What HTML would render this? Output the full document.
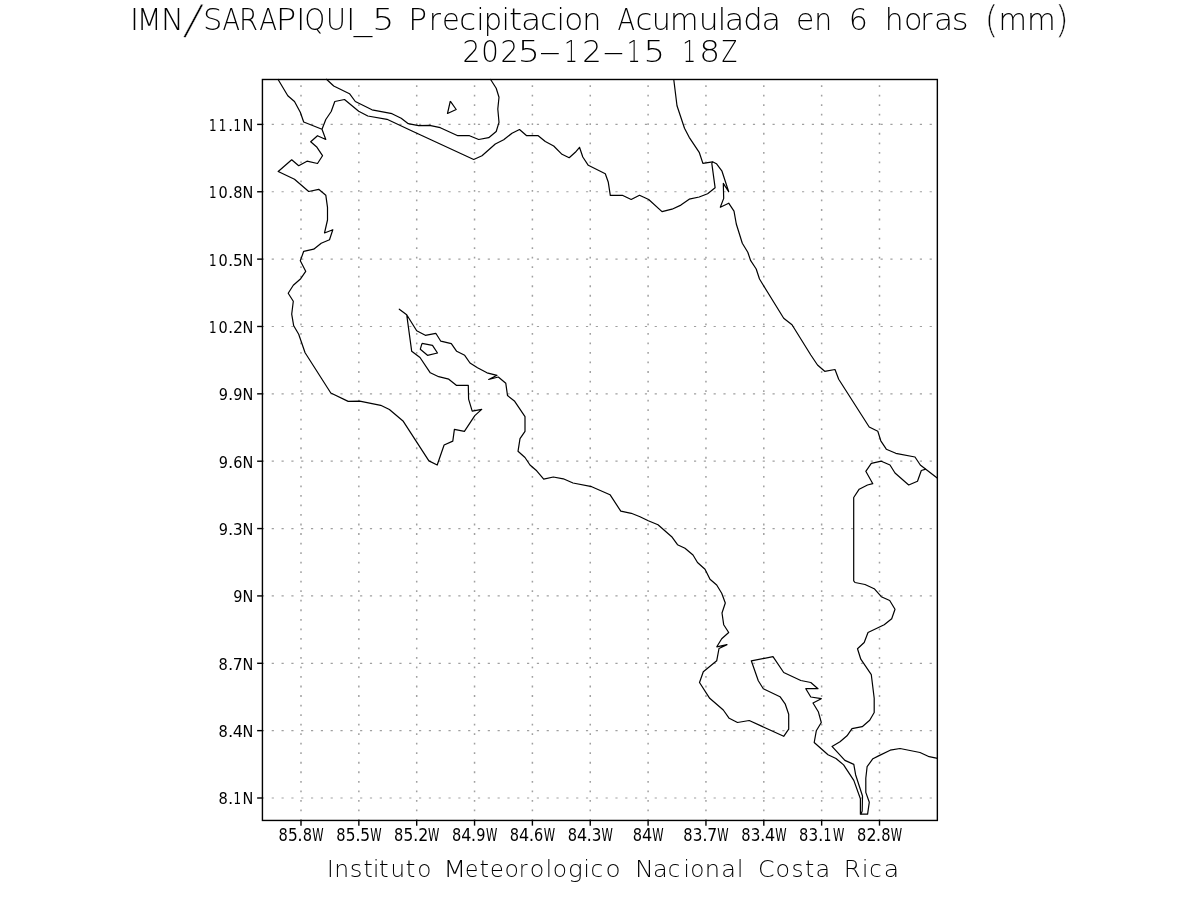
<!DOCTYPE html>
<html><head><meta charset="utf-8"><title>IMN/SARAPIQUI_5 Precipitacion Acumulada en 6 horas (mm)</title>
<style>
html,body{margin:0;padding:0;background:#fff;width:1200px;height:900px;overflow:hidden}
svg{display:block}
text{font-family:"DejaVu Sans","Liberation Sans",sans-serif;font-weight:200;fill:#000;filter:grayscale(1)}
text.a{font-weight:400}

</style></head>
<body>
<svg width="1200" height="900" viewBox="0 0 1200 900">
<rect width="1200" height="900" fill="#fff"/>
<text class="t" font-size="30.55" transform="translate(0 30.3)"><tspan x="130.02" y="0">I</tspan><tspan x="136.68" y="0" textLength="24.93" lengthAdjust="spacingAndGlyphs">M</tspan><tspan x="161.05" y="0">N</tspan><tspan x="183.40" font-size="43.68" y="2.7" stroke="#fff" stroke-width="0.35" rotate="11.0">/</tspan><tspan x="203.04" y="0">S</tspan><tspan x="222.53" y="0" textLength="17.54" lengthAdjust="spacingAndGlyphs">A</tspan><tspan x="239.11" y="0" textLength="19.10" lengthAdjust="spacingAndGlyphs">R</tspan><tspan x="259.22" y="0" textLength="17.87" lengthAdjust="spacingAndGlyphs">A</tspan><tspan x="275.80" y="0" textLength="20.55" lengthAdjust="spacingAndGlyphs">P</tspan><tspan x="296.37" y="0">I</tspan><tspan x="304.41" y="0" textLength="20.60" lengthAdjust="spacingAndGlyphs">Q</tspan><tspan x="326.11" y="0" textLength="19.94" lengthAdjust="spacingAndGlyphs">U</tspan><tspan x="346.22" y="0">I</tspan><tspan x="353.67" y="0" textLength="18.46" lengthAdjust="spacingAndGlyphs">_</tspan><tspan x="372.33" y="0" textLength="22.09" lengthAdjust="spacingAndGlyphs">5</tspan> <tspan x="408.15" y="0" textLength="18.81" lengthAdjust="spacingAndGlyphs">P</tspan><tspan x="428.64" y="0" textLength="12.20" lengthAdjust="spacingAndGlyphs">r</tspan><tspan x="441.89" y="0" textLength="17.79" lengthAdjust="spacingAndGlyphs">e</tspan><tspan x="459.25" y="0">c</tspan><tspan x="476.13" y="0">i</tspan><tspan x="483.73" y="0" textLength="18.33" lengthAdjust="spacingAndGlyphs">p</tspan><tspan x="501.58" y="0">i</tspan><tspan x="509.11" y="0" textLength="13.22" lengthAdjust="spacingAndGlyphs">t</tspan><tspan x="520.94" y="0" textLength="20.30" lengthAdjust="spacingAndGlyphs">a</tspan><tspan x="539.94" y="0" textLength="17.02" lengthAdjust="spacingAndGlyphs">c</tspan><tspan x="556.58" y="0">i</tspan><tspan x="564.21" y="0" textLength="19.03" lengthAdjust="spacingAndGlyphs">o</tspan><tspan x="582.37" y="0" textLength="19.17" lengthAdjust="spacingAndGlyphs">n</tspan> <tspan x="617.53" y="0" textLength="17.54" lengthAdjust="spacingAndGlyphs">A</tspan><tspan x="635.47" y="0">c</tspan><tspan x="651.77" y="0" textLength="19.17" lengthAdjust="spacingAndGlyphs">u</tspan><tspan x="669.99" y="0" textLength="28.45" lengthAdjust="spacingAndGlyphs">m</tspan><tspan x="698.65" y="0" textLength="19.93" lengthAdjust="spacingAndGlyphs">u</tspan><tspan x="717.68" y="0">l</tspan><tspan x="724.84" y="0" textLength="19.56" lengthAdjust="spacingAndGlyphs">a</tspan><tspan x="743.36" y="0">d</tspan><tspan x="761.54" y="0" textLength="19.56" lengthAdjust="spacingAndGlyphs">a</tspan> <tspan x="795.92" y="0" textLength="18.32" lengthAdjust="spacingAndGlyphs">e</tspan><tspan x="814.29" y="0" textLength="17.94" lengthAdjust="spacingAndGlyphs">n</tspan> <tspan x="848.80" y="0" textLength="19.09" lengthAdjust="spacingAndGlyphs">6</tspan> <tspan x="884.63" y="0" textLength="18.86" lengthAdjust="spacingAndGlyphs">h</tspan><tspan x="903.88" y="0" textLength="18.49" lengthAdjust="spacingAndGlyphs">o</tspan><tspan x="920.34" y="0" textLength="12.20" lengthAdjust="spacingAndGlyphs">r</tspan><tspan x="934.10" y="0" textLength="19.12" lengthAdjust="spacingAndGlyphs">a</tspan><tspan x="951.72" y="0" textLength="16.89" lengthAdjust="spacingAndGlyphs">s</tspan> <tspan x="984.26" font-size="37.27" y="2.1" stroke="#fff" stroke-width="0.3">(</tspan><tspan x="998.39" y="0" textLength="28.45" lengthAdjust="spacingAndGlyphs">m</tspan><tspan x="1026.96" y="0" textLength="28.71" lengthAdjust="spacingAndGlyphs">m</tspan><tspan x="1054.51" font-size="37.27" y="2.1" stroke="#fff" stroke-width="0.3">)</tspan></text>
<text class="t" font-size="30.55" transform="translate(0 62.1)"><tspan x="462.43" y="0" textLength="17.86" lengthAdjust="spacingAndGlyphs">2</tspan><tspan x="481.27" y="0" textLength="17.54" lengthAdjust="spacingAndGlyphs">0</tspan><tspan x="500.53" y="0" textLength="17.86" lengthAdjust="spacingAndGlyphs">2</tspan><tspan x="517.77" y="0" textLength="22.17" lengthAdjust="spacingAndGlyphs">5</tspan><tspan x="537.88" y="0" textLength="24.32" lengthAdjust="spacingAndGlyphs">-</tspan><tspan x="564.14" y="0" textLength="13.60" lengthAdjust="spacingAndGlyphs">1</tspan><tspan x="582.25" y="0">2</tspan><tspan x="601.43" y="0" textLength="23.98" lengthAdjust="spacingAndGlyphs">-</tspan><tspan x="627.01" y="0" textLength="13.60" lengthAdjust="spacingAndGlyphs">1</tspan><tspan x="643.51" y="0" textLength="21.57" lengthAdjust="spacingAndGlyphs">5</tspan> <tspan x="682.39" y="0" textLength="13.60" lengthAdjust="spacingAndGlyphs">1</tspan><tspan x="699.19" y="0" textLength="20.87" lengthAdjust="spacingAndGlyphs">8</tspan><tspan x="721.50" y="0" textLength="15.79" lengthAdjust="spacingAndGlyphs">Z</tspan></text>
<g stroke="#a0a0a0"><line x1="301.00" y1="79.49" x2="301.00" y2="820.45" stroke-width="1.5" stroke-dasharray="1.8 7.73" stroke-dashoffset="3.82"/><line x1="358.85" y1="79.49" x2="358.85" y2="820.45" stroke-width="1.5" stroke-dasharray="1.8 7.73" stroke-dashoffset="3.82"/><line x1="416.70" y1="79.49" x2="416.70" y2="820.45" stroke-width="1.5" stroke-dasharray="1.8 7.73" stroke-dashoffset="3.82"/><line x1="474.55" y1="79.49" x2="474.55" y2="820.45" stroke-width="1.5" stroke-dasharray="1.8 7.73" stroke-dashoffset="3.82"/><line x1="532.40" y1="79.49" x2="532.40" y2="820.45" stroke-width="1.5" stroke-dasharray="1.8 7.73" stroke-dashoffset="3.82"/><line x1="590.25" y1="79.49" x2="590.25" y2="820.45" stroke-width="1.5" stroke-dasharray="1.8 7.73" stroke-dashoffset="3.82"/><line x1="648.10" y1="79.49" x2="648.10" y2="820.45" stroke-width="1.5" stroke-dasharray="1.8 7.73" stroke-dashoffset="3.82"/><line x1="705.95" y1="79.49" x2="705.95" y2="820.45" stroke-width="1.5" stroke-dasharray="1.8 7.73" stroke-dashoffset="3.82"/><line x1="763.80" y1="79.49" x2="763.80" y2="820.45" stroke-width="1.5" stroke-dasharray="1.8 7.73" stroke-dashoffset="3.82"/><line x1="821.65" y1="79.49" x2="821.65" y2="820.45" stroke-width="1.5" stroke-dasharray="1.8 7.73" stroke-dashoffset="3.82"/><line x1="879.50" y1="79.49" x2="879.50" y2="820.45" stroke-width="1.5" stroke-dasharray="1.8 7.73" stroke-dashoffset="3.82"/><line x1="262.43" y1="124.40" x2="937.35" y2="124.40" stroke-width="1.2" stroke-dasharray="2.2 7.62" stroke-dashoffset="0.55"/><line x1="262.43" y1="191.76" x2="937.35" y2="191.76" stroke-width="1.2" stroke-dasharray="2.2 7.62" stroke-dashoffset="0.55"/><line x1="262.43" y1="259.12" x2="937.35" y2="259.12" stroke-width="1.2" stroke-dasharray="2.2 7.62" stroke-dashoffset="0.55"/><line x1="262.43" y1="326.48" x2="937.35" y2="326.48" stroke-width="1.2" stroke-dasharray="2.2 7.62" stroke-dashoffset="0.55"/><line x1="262.43" y1="393.84" x2="937.35" y2="393.84" stroke-width="1.2" stroke-dasharray="2.2 7.62" stroke-dashoffset="0.55"/><line x1="262.43" y1="461.20" x2="937.35" y2="461.20" stroke-width="1.2" stroke-dasharray="2.2 7.62" stroke-dashoffset="0.55"/><line x1="262.43" y1="528.56" x2="937.35" y2="528.56" stroke-width="1.2" stroke-dasharray="2.2 7.62" stroke-dashoffset="0.55"/><line x1="262.43" y1="595.92" x2="937.35" y2="595.92" stroke-width="1.2" stroke-dasharray="2.2 7.62" stroke-dashoffset="0.55"/><line x1="262.43" y1="663.28" x2="937.35" y2="663.28" stroke-width="1.2" stroke-dasharray="2.2 7.62" stroke-dashoffset="0.55"/><line x1="262.43" y1="730.64" x2="937.35" y2="730.64" stroke-width="1.2" stroke-dasharray="2.2 7.62" stroke-dashoffset="0.55"/><line x1="262.43" y1="798.00" x2="937.35" y2="798.00" stroke-width="1.2" stroke-dasharray="2.2 7.62" stroke-dashoffset="0.55"/></g>
<g fill="none" stroke="#000" stroke-width="1.2" stroke-linejoin="round"><polyline points="277.8,79.0 287.8,95.7 294.5,101.5 300.3,112.3 303.7,122.0 322.0,129.3"/><polyline points="322.0,129.3 325.8,139.5 317.5,135.7 310.7,141.8 317.0,147.3 322.5,155.7 317.5,163.5 307.0,161.2 298.7,165.7 291.7,159.8 278.2,171.5 294.5,179.3 308.7,191.5 318.7,189.3 325.8,195.2 327.5,207.3 327.5,220.0 324.5,233.0 332.8,229.7 329.5,239.7 321.2,243.3 313.7,249.2 303.7,251.3 300.3,260.8 305.7,271.3 300.7,278.7 293.3,285.3 288.2,293.3 293.3,301.3 291.7,314.2 293.7,325.8 298.7,334.2 305.1,352.8 330.8,393.0 348.2,401.4 359.7,401.2 380.7,405.3 389.4,409.5 403.3,421.3 428.9,460.9 437.2,465.0 444.1,445.0 452.8,441.1 454.4,429.4 464.4,431.3 474.8,415.6 481.7,409.4 472.2,411.1 468.6,399.2 468.3,385.3 456.3,385.3 448.8,379.2 438.7,376.7 430.3,372.8 420.0,357.5 411.7,351.3 406.7,314.7 399.3,309.2 406.7,314.7 416.7,330.8 425.3,335.3 435.8,333.3 440.8,341.2 451.3,343.7 456.7,351.3 464.7,355.3 470.0,363.0 477.5,367.8 487.0,372.8 497.0,375.3 488.7,379.5 498.3,377.0 505.8,383.3 507.5,395.5 514.7,401.3 525.0,416.7 525.0,431.3 520.0,438.7 518.0,451.3 525.0,457.5 530.0,465.0 536.7,470.8 543.7,479.2 553.3,477.0 563.3,478.8 573.0,483.0 591.7,486.7 610.0,494.7 620.8,511.2 631.3,513.3 640.0,516.7 648.3,520.8 658.0,524.7 671.7,536.7 677.5,544.7 685.0,548.3 693.0,555.0 697.5,562.5 705.0,569.2 710.0,579.2 716.7,585.0 721.7,593.3 725.3,603.0 722.0,613.0 723.7,624.7 728.7,632.5 721.7,638.7 716.8,646.8 727.0,644.6 719.0,648.5 716.7,660.8 703.3,671.7 699.5,682.5 709.7,698.3 723.3,710.0 729.2,718.3 737.5,722.5 749.2,720.5 783.7,736.3 788.7,729.2 788.7,714.2 785.3,704.2 780.0,696.7 763.3,688.8 758.3,680.8 751.3,660.8 773.0,656.7 783.7,672.5 800.8,680.5 810.8,682.5 818.0,688.7 805.8,688.7 810.8,697.0 821.3,698.7 813.0,703.0 818.3,711.7 821.3,722.5 816.3,730.8 814.2,742.5 828.0,754.7 836.0,758.5 843.6,764.9 853.8,780.4 860.4,798.7 860.4,814.2 867.6,814.2 869.3,802.2 865.8,792.4 865.8,778.2 867.1,766.7 872.9,758.7 879.1,755.6 890.2,750.2 900.0,748.5 920.0,752.5 929.2,756.7 937.5,758.3"/><polyline points="322.0,129.3 325.8,119.5 331.2,111.5 334.8,101.5 344.5,99.5 358.7,111.2 367.8,116.0 387.0,119.3 412.0,131.0 473.7,159.5 482.0,155.7 495.3,144.0 503.7,139.8 512.0,133.2 519.5,129.5 526.7,135.7 538.2,135.7 545.3,141.5 553.7,146.0 562.0,154.3 569.2,157.7 575.3,152.3 579.5,147.3 582.8,157.0 588.3,165.3 605.3,173.7 608.3,182.3 610.3,195.3 622.3,195.3 631.2,199.5 639.5,195.3 648.7,199.5 662.0,211.6 672.0,209.2 680.9,205.1 689.2,199.2 699.2,197.0 707.6,193.8 715.1,187.7 711.8,163.4 712.6,161.8"/><polyline points="326.2,79.0 333.7,86.0 349.5,93.7 355.3,101.5 372.0,109.8 392.0,113.7 401.2,118.2 408.3,123.7 412.0,124.3 418.7,125.7 429.5,125.3 440.3,127.7 457.8,135.7 469.5,135.7 478.7,139.5 488.7,137.7 496.2,131.5 499.0,122.3 497.8,109.0 499.0,97.3 496.2,88.2 490.3,79.0"/><polyline points="450.3,101.2 456.2,109.5 447.5,113.5 450.3,101.2"/><polyline points="422.0,343.3 432.5,345.3 437.5,353.0 427.5,355.3 420.3,349.2 422.0,343.3"/><polyline points="673.7,79.0 677.0,105.7 684.5,128.2 689.2,137.3 699.2,152.3 702.9,163.4 712.6,161.8 716.4,163.7 722.0,171.2 728.7,191.8 723.3,183.4 723.7,198.4 720.3,207.3 728.7,203.2 734.0,211.2 736.3,224.0 742.3,243.2 747.8,252.3 750.7,260.7 756.2,269.0 759.5,279.0 783.7,318.2 792.0,324.8 810.8,355.0 817.5,365.0 824.7,371.3 835.0,369.5 838.7,379.2 869.2,427.0 877.8,431.3 880.8,440.8 886.3,449.2 895.8,453.3 915.0,457.0 920.3,465.0 925.8,469.2 937.5,478.3"/><polyline points="925.8,469.2 921.3,470.5 917.5,481.2 908.7,485.0 895.0,473.0 890.0,465.0 881.3,461.2 871.3,463.3 865.8,471.3 872.8,483.7 867.5,485.0 859.2,489.2 853.7,497.5 853.7,580.8 855.0,582.5 865.0,584.5 874.2,588.7 881.3,596.7 889.7,600.5 895.0,609.2 891.7,618.7 884.2,624.7 868.0,632.5 864.2,642.5 857.5,648.7 860.8,659.2 871.3,674.7 874.2,698.3 874.2,712.5 869.7,720.3 862.2,726.7 852.0,728.7 847.0,735.8 840.0,741.7 832.0,746.4 844.9,760.4 853.8,764.4 855.6,774.7 862.5,796.0 862.2,811.1 860.9,814.2"/></g>
<rect x="262.43" y="79.49" width="674.92" height="740.96" fill="none" stroke="#000" stroke-width="1.4"/>
<g stroke="#000" stroke-width="1.4"><line x1="301.00" y1="820.45" x2="301.00" y2="825.6500000000001"/><line x1="358.85" y1="820.45" x2="358.85" y2="825.6500000000001"/><line x1="416.70" y1="820.45" x2="416.70" y2="825.6500000000001"/><line x1="474.55" y1="820.45" x2="474.55" y2="825.6500000000001"/><line x1="532.40" y1="820.45" x2="532.40" y2="825.6500000000001"/><line x1="590.25" y1="820.45" x2="590.25" y2="825.6500000000001"/><line x1="648.10" y1="820.45" x2="648.10" y2="825.6500000000001"/><line x1="705.95" y1="820.45" x2="705.95" y2="825.6500000000001"/><line x1="763.80" y1="820.45" x2="763.80" y2="825.6500000000001"/><line x1="821.65" y1="820.45" x2="821.65" y2="825.6500000000001"/><line x1="879.50" y1="820.45" x2="879.50" y2="825.6500000000001"/><line x1="262.43" y1="124.40" x2="257.13" y2="124.40"/><line x1="262.43" y1="191.76" x2="257.13" y2="191.76"/><line x1="262.43" y1="259.12" x2="257.13" y2="259.12"/><line x1="262.43" y1="326.48" x2="257.13" y2="326.48"/><line x1="262.43" y1="393.84" x2="257.13" y2="393.84"/><line x1="262.43" y1="461.20" x2="257.13" y2="461.20"/><line x1="262.43" y1="528.56" x2="257.13" y2="528.56"/><line x1="262.43" y1="595.92" x2="257.13" y2="595.92"/><line x1="262.43" y1="663.28" x2="257.13" y2="663.28"/><line x1="262.43" y1="730.64" x2="257.13" y2="730.64"/><line x1="262.43" y1="798.00" x2="257.13" y2="798.00"/></g>
<text class="a" font-size="17.12" transform="translate(0 840.9)"><tspan x="278.40" y="0" textLength="9.29" lengthAdjust="spacingAndGlyphs">8</tspan><tspan x="287.91" y="0" textLength="9.81" lengthAdjust="spacingAndGlyphs">5</tspan><tspan x="297.32" y="0">.</tspan><tspan x="302.70" y="0" textLength="9.29" lengthAdjust="spacingAndGlyphs">8</tspan><tspan x="312.33" y="0" textLength="11.35" lengthAdjust="spacingAndGlyphs">W</tspan></text>
<text class="a" font-size="17.12" transform="translate(0 840.9)"><tspan x="336.25" y="0" textLength="9.29" lengthAdjust="spacingAndGlyphs">8</tspan><tspan x="345.76" y="0" textLength="9.81" lengthAdjust="spacingAndGlyphs">5</tspan><tspan x="355.17" y="0">.</tspan><tspan x="360.34" y="0" textLength="9.81" lengthAdjust="spacingAndGlyphs">5</tspan><tspan x="370.18" y="0" textLength="11.35" lengthAdjust="spacingAndGlyphs">W</tspan></text>
<text class="a" font-size="17.12" transform="translate(0 840.9)"><tspan x="394.10" y="0" textLength="9.29" lengthAdjust="spacingAndGlyphs">8</tspan><tspan x="403.61" y="0" textLength="9.81" lengthAdjust="spacingAndGlyphs">5</tspan><tspan x="413.02" y="0">.</tspan><tspan x="418.21" y="0" textLength="10.02" lengthAdjust="spacingAndGlyphs">2</tspan><tspan x="428.03" y="0" textLength="11.35" lengthAdjust="spacingAndGlyphs">W</tspan></text>
<text class="a" font-size="17.12" transform="translate(0 840.9)"><tspan x="451.95" y="0" textLength="9.29" lengthAdjust="spacingAndGlyphs">8</tspan><tspan x="461.24" y="0" textLength="10.20" lengthAdjust="spacingAndGlyphs">4</tspan><tspan x="470.87" y="0">.</tspan><tspan x="476.30" y="0" textLength="9.23" lengthAdjust="spacingAndGlyphs">9</tspan><tspan x="485.88" y="0" textLength="11.35" lengthAdjust="spacingAndGlyphs">W</tspan></text>
<text class="a" font-size="17.12" transform="translate(0 840.9)"><tspan x="509.80" y="0" textLength="9.29" lengthAdjust="spacingAndGlyphs">8</tspan><tspan x="519.09" y="0" textLength="10.20" lengthAdjust="spacingAndGlyphs">4</tspan><tspan x="528.72" y="0">.</tspan><tspan x="534.05" y="0" textLength="9.23" lengthAdjust="spacingAndGlyphs">6</tspan><tspan x="543.73" y="0" textLength="11.35" lengthAdjust="spacingAndGlyphs">W</tspan></text>
<text class="a" font-size="17.12" transform="translate(0 840.9)"><tspan x="567.65" y="0" textLength="9.29" lengthAdjust="spacingAndGlyphs">8</tspan><tspan x="576.94" y="0" textLength="10.20" lengthAdjust="spacingAndGlyphs">4</tspan><tspan x="586.57" y="0">.</tspan><tspan x="591.75" y="0" textLength="9.68" lengthAdjust="spacingAndGlyphs">3</tspan><tspan x="601.58" y="0" textLength="11.35" lengthAdjust="spacingAndGlyphs">W</tspan></text>
<text class="a" font-size="17.12" transform="translate(0 840.9)"><tspan x="632.79" y="0" textLength="9.29" lengthAdjust="spacingAndGlyphs">8</tspan><tspan x="642.08" y="0" textLength="10.20" lengthAdjust="spacingAndGlyphs">4</tspan><tspan x="652.14" y="0" textLength="11.35" lengthAdjust="spacingAndGlyphs">W</tspan></text>
<text class="a" font-size="17.12" transform="translate(0 840.9)"><tspan x="683.35" y="0" textLength="9.29" lengthAdjust="spacingAndGlyphs">8</tspan><tspan x="692.87" y="0" textLength="9.68" lengthAdjust="spacingAndGlyphs">3</tspan><tspan x="702.27" y="0">.</tspan><tspan x="707.32" y="0" textLength="9.95" lengthAdjust="spacingAndGlyphs">7</tspan><tspan x="717.28" y="0" textLength="11.35" lengthAdjust="spacingAndGlyphs">W</tspan></text>
<text class="a" font-size="17.12" transform="translate(0 840.9)"><tspan x="741.20" y="0" textLength="9.29" lengthAdjust="spacingAndGlyphs">8</tspan><tspan x="750.72" y="0" textLength="9.68" lengthAdjust="spacingAndGlyphs">3</tspan><tspan x="760.12" y="0">.</tspan><tspan x="765.07" y="0" textLength="10.20" lengthAdjust="spacingAndGlyphs">4</tspan><tspan x="775.13" y="0" textLength="11.35" lengthAdjust="spacingAndGlyphs">W</tspan></text>
<text class="a" font-size="17.12" transform="translate(0 840.9)"><tspan x="799.05" y="0" textLength="9.29" lengthAdjust="spacingAndGlyphs">8</tspan><tspan x="808.57" y="0" textLength="9.68" lengthAdjust="spacingAndGlyphs">3</tspan><tspan x="817.97" y="0">.</tspan><tspan x="823.44" y="0" textLength="7.84" lengthAdjust="spacingAndGlyphs">1</tspan><tspan x="832.98" y="0" textLength="11.35" lengthAdjust="spacingAndGlyphs">W</tspan></text>
<text class="a" font-size="17.12" transform="translate(0 840.9)"><tspan x="856.90" y="0" textLength="9.29" lengthAdjust="spacingAndGlyphs">8</tspan><tspan x="866.43" y="0" textLength="10.02" lengthAdjust="spacingAndGlyphs">2</tspan><tspan x="875.82" y="0">.</tspan><tspan x="881.20" y="0" textLength="9.29" lengthAdjust="spacingAndGlyphs">8</tspan><tspan x="890.83" y="0" textLength="11.35" lengthAdjust="spacingAndGlyphs">W</tspan></text>
<text class="a" font-size="16.58" transform="translate(0 130.9)"><tspan x="209.10" y="0" textLength="7.59" lengthAdjust="spacingAndGlyphs">1</tspan><tspan x="218.82" y="0" textLength="7.59" lengthAdjust="spacingAndGlyphs">1</tspan><tspan x="227.89" y="0">.</tspan><tspan x="233.40" y="0" textLength="7.59" lengthAdjust="spacingAndGlyphs">1</tspan><tspan x="242.61" y="0" textLength="10.82" lengthAdjust="spacingAndGlyphs">N</tspan></text>
<text class="a" font-size="16.58" transform="translate(0 198.25989999999976)"><tspan x="209.10" y="0" textLength="7.59" lengthAdjust="spacingAndGlyphs">1</tspan><tspan x="218.60" y="0" textLength="9.23" lengthAdjust="spacingAndGlyphs">0</tspan><tspan x="227.89" y="0">.</tspan><tspan x="233.18" y="0" textLength="9.29" lengthAdjust="spacingAndGlyphs">8</tspan><tspan x="242.61" y="0" textLength="10.82" lengthAdjust="spacingAndGlyphs">N</tspan></text>
<text class="a" font-size="16.58" transform="translate(0 265.61979999999994)"><tspan x="209.10" y="0" textLength="7.59" lengthAdjust="spacingAndGlyphs">1</tspan><tspan x="218.60" y="0" textLength="9.23" lengthAdjust="spacingAndGlyphs">0</tspan><tspan x="227.89" y="0">.</tspan><tspan x="232.97" y="0" textLength="9.81" lengthAdjust="spacingAndGlyphs">5</tspan><tspan x="242.61" y="0" textLength="10.82" lengthAdjust="spacingAndGlyphs">N</tspan></text>
<text class="a" font-size="16.58" transform="translate(0 332.9797000000001)"><tspan x="209.10" y="0" textLength="7.59" lengthAdjust="spacingAndGlyphs">1</tspan><tspan x="218.60" y="0" textLength="9.23" lengthAdjust="spacingAndGlyphs">0</tspan><tspan x="227.89" y="0">.</tspan><tspan x="232.99" y="0" textLength="10.02" lengthAdjust="spacingAndGlyphs">2</tspan><tspan x="242.61" y="0" textLength="10.82" lengthAdjust="spacingAndGlyphs">N</tspan></text>
<text class="a" font-size="16.58" transform="translate(0 400.3395999999998)"><tspan x="218.65" y="0" textLength="9.23" lengthAdjust="spacingAndGlyphs">9</tspan><tspan x="227.89" y="0">.</tspan><tspan x="233.23" y="0" textLength="9.23" lengthAdjust="spacingAndGlyphs">9</tspan><tspan x="242.61" y="0" textLength="10.82" lengthAdjust="spacingAndGlyphs">N</tspan></text>
<text class="a" font-size="16.58" transform="translate(0 467.69949999999994)"><tspan x="218.65" y="0" textLength="9.23" lengthAdjust="spacingAndGlyphs">9</tspan><tspan x="227.89" y="0">.</tspan><tspan x="233.13" y="0" textLength="9.23" lengthAdjust="spacingAndGlyphs">6</tspan><tspan x="242.61" y="0" textLength="10.82" lengthAdjust="spacingAndGlyphs">N</tspan></text>
<text class="a" font-size="16.58" transform="translate(0 535.0593999999998)"><tspan x="218.65" y="0" textLength="9.23" lengthAdjust="spacingAndGlyphs">9</tspan><tspan x="227.89" y="0">.</tspan><tspan x="232.98" y="0" textLength="9.68" lengthAdjust="spacingAndGlyphs">3</tspan><tspan x="242.61" y="0" textLength="10.82" lengthAdjust="spacingAndGlyphs">N</tspan></text>
<text class="a" font-size="16.58" transform="translate(0 602.4192999999999)"><tspan x="233.23" y="0" textLength="9.23" lengthAdjust="spacingAndGlyphs">9</tspan><tspan x="242.61" y="0" textLength="10.82" lengthAdjust="spacingAndGlyphs">N</tspan></text>
<text class="a" font-size="16.58" transform="translate(0 669.7792000000001)"><tspan x="218.60" y="0" textLength="9.29" lengthAdjust="spacingAndGlyphs">8</tspan><tspan x="227.89" y="0">.</tspan><tspan x="232.85" y="0" textLength="9.95" lengthAdjust="spacingAndGlyphs">7</tspan><tspan x="242.61" y="0" textLength="10.82" lengthAdjust="spacingAndGlyphs">N</tspan></text>
<text class="a" font-size="16.58" transform="translate(0 737.1390999999998)"><tspan x="218.60" y="0" textLength="9.29" lengthAdjust="spacingAndGlyphs">8</tspan><tspan x="227.89" y="0">.</tspan><tspan x="232.75" y="0" textLength="10.20" lengthAdjust="spacingAndGlyphs">4</tspan><tspan x="242.61" y="0" textLength="10.82" lengthAdjust="spacingAndGlyphs">N</tspan></text>
<text class="a" font-size="16.58" transform="translate(0 804.4989999999999)"><tspan x="218.60" y="0" textLength="9.29" lengthAdjust="spacingAndGlyphs">8</tspan><tspan x="227.89" y="0">.</tspan><tspan x="233.40" y="0" textLength="7.59" lengthAdjust="spacingAndGlyphs">1</tspan><tspan x="242.61" y="0" textLength="10.82" lengthAdjust="spacingAndGlyphs">N</tspan></text>
<text class="b" font-size="22.74" transform="translate(0 876.6)"><tspan x="327.01" y="0">I</tspan><tspan x="334.34" y="0" textLength="14.87" lengthAdjust="spacingAndGlyphs">n</tspan><tspan x="349.83" y="0" textLength="12.70" lengthAdjust="spacingAndGlyphs">s</tspan><tspan x="363.52" y="0" textLength="9.25" lengthAdjust="spacingAndGlyphs">t</tspan><tspan x="373.08" y="0">i</tspan><tspan x="378.74" y="0" textLength="9.91" lengthAdjust="spacingAndGlyphs">t</tspan><tspan x="390.55" y="0" textLength="14.57" lengthAdjust="spacingAndGlyphs">u</tspan><tspan x="405.44" y="0" textLength="9.91" lengthAdjust="spacingAndGlyphs">t</tspan><tspan x="417.35" y="0" textLength="14.17" lengthAdjust="spacingAndGlyphs">o</tspan> <tspan x="443.23" y="0" textLength="23.03" lengthAdjust="spacingAndGlyphs">M</tspan><tspan x="464.96" y="0" textLength="13.37" lengthAdjust="spacingAndGlyphs">e</tspan><tspan x="479.59" y="0" textLength="9.52" lengthAdjust="spacingAndGlyphs">t</tspan><tspan x="489.91" y="0" textLength="13.78" lengthAdjust="spacingAndGlyphs">e</tspan><tspan x="504.41" y="0" textLength="14.44" lengthAdjust="spacingAndGlyphs">o</tspan><tspan x="518.93" y="0" textLength="8.59" lengthAdjust="spacingAndGlyphs">r</tspan><tspan x="529.79" y="0" textLength="14.58" lengthAdjust="spacingAndGlyphs">o</tspan><tspan x="545.78" y="0">l</tspan><tspan x="552.83" y="0" textLength="14.31" lengthAdjust="spacingAndGlyphs">o</tspan><tspan x="568.04" y="0" textLength="14.73" lengthAdjust="spacingAndGlyphs">g</tspan><tspan x="583.58" y="0">i</tspan><tspan x="590.46" y="0" textLength="12.70" lengthAdjust="spacingAndGlyphs">c</tspan><tspan x="605.52" y="0" textLength="15.12" lengthAdjust="spacingAndGlyphs">o</tspan> <tspan x="634.98" y="0" textLength="18.83" lengthAdjust="spacingAndGlyphs">N</tspan><tspan x="653.00" y="0" textLength="14.71" lengthAdjust="spacingAndGlyphs">a</tspan><tspan x="667.69" y="0">c</tspan><tspan x="683.58" y="0">i</tspan><tspan x="690.15" y="0" textLength="14.17" lengthAdjust="spacingAndGlyphs">o</tspan><tspan x="704.76" y="0" textLength="15.33" lengthAdjust="spacingAndGlyphs">n</tspan><tspan x="721.30" y="0" textLength="14.71" lengthAdjust="spacingAndGlyphs">a</tspan><tspan x="736.93" y="0">l</tspan> <tspan x="758.02" y="0" textLength="16.58" lengthAdjust="spacingAndGlyphs">C</tspan><tspan x="775.59" y="0" textLength="14.58" lengthAdjust="spacingAndGlyphs">o</tspan><tspan x="791.51" y="0" textLength="12.14" lengthAdjust="spacingAndGlyphs">s</tspan><tspan x="805.12" y="0" textLength="9.25" lengthAdjust="spacingAndGlyphs">t</tspan><tspan x="815.50" y="0" textLength="14.71" lengthAdjust="spacingAndGlyphs">a</tspan> <tspan x="843.72" y="0" textLength="16.81" lengthAdjust="spacingAndGlyphs">R</tspan><tspan x="861.93" y="0">i</tspan><tspan x="869.29" y="0">c</tspan><tspan x="883.70" y="0" textLength="15.44" lengthAdjust="spacingAndGlyphs">a</tspan></text>
</svg>
</body></html>
